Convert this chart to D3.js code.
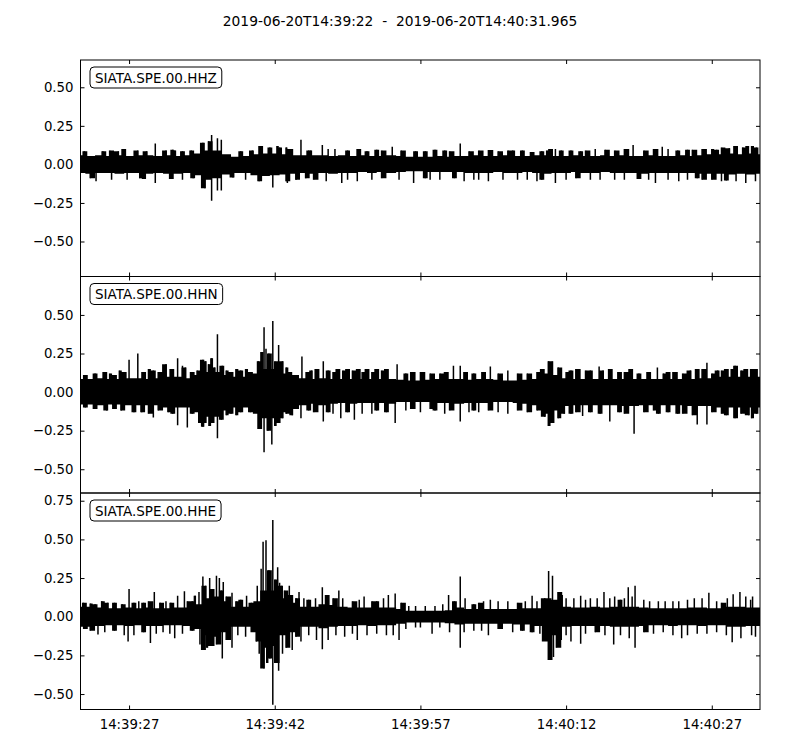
<!DOCTYPE html>
<html><head><meta charset="utf-8">
<script src="https://cdn.jsdelivr.net/npm/d3@7"></script>
<style>body{margin:0;background:#fff}svg{display:block}text{font-family:"DejaVu Sans",sans-serif}</style>
</head><body><svg id="c" width="800" height="750"></svg>
<script>
const titleText = "2019-06-20T14:39:22  -  2019-06-20T14:40:31.965";
const startTime = "2019-06-20T14:39:22.000Z";
const endTime = "2019-06-20T14:40:31.965Z";
const channels = ["SIATA.SPE.00.HHZ", "SIATA.SPE.00.HHN", "SIATA.SPE.00.HHE"];
const xTickLabels = ["14:39:27", "14:39:42", "14:39:57", "14:40:12", "14:40:27"];
const yTicks = [[-0.5,-0.25,0,0.25,0.5],[-0.5,-0.25,0,0.25,0.5],[-0.5,-0.25,0,0.25,0.5,0.75]];
const yLimits = [[-0.727,0.677],[-0.654,0.749],[-0.60,0.80]];
// dense core of each trace, sampled each second from start (t = 0..70 s)
const hhzUpper = [0.06,0.055,0.06,0.055,0.06,0.055,0.06,0.06,0.055,0.06,0.055,0.06,0.07,0.09,0.09,0.065,0.05,0.055,0.065,0.07,0.07,0.065,0.06,0.06,0.06,0.06,0.055,0.06,0.055,0.06,0.055,0.055,0.06,0.055,0.05,0.05,0.05,0.055,0.05,0.055,0.055,0.06,0.055,0.055,0.06,0.055,0.055,0.06,0.06,0.055,0.055,0.06,0.055,0.055,0.06,0.055,0.06,0.055,0.055,0.06,0.055,0.055,0.06,0.055,0.06,0.065,0.065,0.07,0.065,0.07,0.065];
const hhzLower = [-0.055,-0.06,-0.055,-0.055,-0.06,-0.055,-0.055,-0.06,-0.055,-0.06,-0.06,-0.055,-0.07,-0.1,-0.09,-0.065,-0.055,-0.055,-0.07,-0.075,-0.07,-0.065,-0.06,-0.055,-0.06,-0.055,-0.06,-0.055,-0.055,-0.05,-0.055,-0.05,-0.055,-0.05,-0.045,-0.045,-0.05,-0.05,-0.05,-0.05,-0.055,-0.055,-0.055,-0.05,-0.055,-0.055,-0.05,-0.055,-0.06,-0.055,-0.055,-0.05,-0.055,-0.055,-0.05,-0.055,-0.055,-0.055,-0.06,-0.055,-0.055,-0.055,-0.055,-0.055,-0.06,-0.06,-0.06,-0.065,-0.06,-0.065,-0.06];
const hhnUpper = [0.085,0.085,0.09,0.085,0.085,0.09,0.09,0.085,0.09,0.1,0.1,0.09,0.11,0.13,0.13,0.11,0.1,0.1,0.12,0.15,0.15,0.12,0.11,0.09,0.085,0.09,0.085,0.085,0.085,0.085,0.085,0.085,0.085,0.08,0.075,0.075,0.08,0.085,0.085,0.085,0.08,0.085,0.085,0.08,0.075,0.075,0.08,0.085,0.12,0.11,0.09,0.085,0.085,0.085,0.085,0.085,0.085,0.085,0.085,0.085,0.085,0.085,0.085,0.085,0.09,0.09,0.1,0.1,0.1,0.1,0.1];
const hhnLower = [-0.08,-0.08,-0.085,-0.08,-0.08,-0.085,-0.085,-0.085,-0.085,-0.1,-0.1,-0.1,-0.13,-0.16,-0.16,-0.12,-0.1,-0.1,-0.14,-0.17,-0.17,-0.13,-0.11,-0.085,-0.075,-0.085,-0.075,-0.07,-0.075,-0.07,-0.07,-0.07,-0.075,-0.065,-0.065,-0.065,-0.065,-0.07,-0.07,-0.075,-0.07,-0.07,-0.07,-0.065,-0.065,-0.07,-0.075,-0.085,-0.14,-0.12,-0.09,-0.085,-0.085,-0.085,-0.085,-0.085,-0.09,-0.09,-0.085,-0.085,-0.085,-0.085,-0.085,-0.09,-0.09,-0.09,-0.1,-0.1,-0.1,-0.1,-0.1];
const hheUpper = [0.065,0.065,0.06,0.055,0.055,0.06,0.055,0.06,0.055,0.055,0.06,0.06,0.08,0.12,0.13,0.1,0.065,0.065,0.1,0.17,0.17,0.12,0.09,0.065,0.065,0.08,0.075,0.065,0.06,0.06,0.06,0.06,0.06,0.05,0.038,0.038,0.038,0.038,0.042,0.06,0.05,0.05,0.05,0.05,0.05,0.05,0.055,0.055,0.12,0.11,0.065,0.06,0.06,0.065,0.06,0.065,0.065,0.065,0.06,0.055,0.055,0.055,0.055,0.06,0.06,0.055,0.055,0.065,0.065,0.06,0.06];
const hheLower = [-0.065,-0.065,-0.06,-0.055,-0.055,-0.06,-0.055,-0.06,-0.06,-0.055,-0.055,-0.06,-0.08,-0.12,-0.13,-0.1,-0.065,-0.065,-0.1,-0.2,-0.19,-0.12,-0.1,-0.065,-0.065,-0.075,-0.065,-0.06,-0.06,-0.055,-0.06,-0.055,-0.055,-0.045,-0.038,-0.038,-0.038,-0.038,-0.042,-0.05,-0.045,-0.045,-0.045,-0.045,-0.045,-0.05,-0.05,-0.06,-0.16,-0.12,-0.065,-0.06,-0.06,-0.06,-0.06,-0.065,-0.065,-0.065,-0.06,-0.055,-0.055,-0.06,-0.055,-0.055,-0.06,-0.055,-0.055,-0.065,-0.065,-0.06,-0.06];
// individual spikes [seconds from start, amplitude]
const hhzSpikes = [[0.4,0.085],[2.3,0.085],[3,0.09],[3.9,0.085],[4.4,0.1],[5.9,0.09],[6.8,0.085],[7.7,0.135],[8.8,0.09],[9.5,0.095],[9.7,0.09],[10.5,0.085],[11.4,0.09],[12.6,0.14],[13.2,0.15],[13.5,0.19],[14.1,0.17],[14.5,0.16],[16.5,0.085],[17.7,0.09],[18.6,0.12],[19.5,0.11],[20.3,0.12],[20.5,0.11],[21.2,0.11],[21.4,0.1],[21.8,0.1],[22.7,0.16],[23.5,0.09],[23.7,0.09],[24.9,0.125],[25.5,0.1],[26.2,0.1],[27.5,0.09],[28.8,0.1],[29.5,0.085],[30.5,0.095],[31,0.09],[32.1,0.115],[33,0.09],[34.5,0.085],[35.5,0.085],[36.5,0.095],[37.5,0.09],[38,0.085],[39.1,0.136],[40,0.085],[41,0.09],[42,0.093],[43,0.085],[44,0.09],[44.5,0.09],[45.5,0.09],[46.5,0.08],[47.5,0.085],[48,0.09],[48.3,0.1],[48.9,0.1],[49.5,0.09],[50.5,0.09],[51.5,0.085],[52,0.09],[53,0.1],[54,0.095],[55,0.09],[56,0.1],[56.9,0.125],[58,0.09],[59,0.1],[59.9,0.115],[60.5,0.1],[61.5,0.09],[62.5,0.095],[63,0.095],[64,0.1],[65,0.1],[65.5,0.095],[66,0.11],[66.8,0.105],[67.4,0.12],[68.2,0.11],[68.7,0.12],[69.1,0.12],[69.6,0.11],
  [1,-0.09],[1.6,-0.11],[3.2,-0.1],[4.8,-0.1],[6.1,-0.09],[6.5,-0.095],[7.7,-0.12],[9.2,-0.095],[10.5,-0.1],[11.6,-0.09],[12.8,-0.155],[13.5,-0.235],[14.1,-0.17],[14.5,-0.17],[15.7,-0.085],[17,-0.1],[18.4,-0.11],[19.8,-0.15],[21.2,-0.11],[21.3,-0.12],[22.2,-0.1],[23.2,-0.09],[24,-0.1],[25.3,-0.11],[26.9,-0.12],[27.5,-0.1],[28.5,-0.11],[30,-0.1],[31,-0.09],[32.8,-0.1],[34.3,-0.12],[35.5,-0.09],[36,-0.1],[37,-0.1],[38.5,-0.09],[39.5,-0.11],[40.5,-0.1],[41,-0.1],[42,-0.11],[43.5,-0.1],[45,-0.1],[46,-0.1],[47,-0.11],[47.5,-0.1],[48.9,-0.12],[50,-0.1],[51,-0.09],[52.5,-0.1],[53.5,-0.1],[55,-0.1],[56,-0.1],[57.5,-0.095],[58.5,-0.1],[59.2,-0.12],[60.5,-0.1],[61.6,-0.11],[62.5,-0.1],[63.5,-0.09],[64,-0.1],[65,-0.1],[66,-0.11],[66.5,-0.105],[67.5,-0.11],[68.5,-0.12],[69.5,-0.11]];
const hhnSpikes = [[0.5,0.11],[1.5,0.12],[2.5,0.13],[3,0.12],[3.5,0.11],[4,0.14],[4.5,0.13],[5,0.21],[5.9,0.25],[6.5,0.13],[7,0.15],[7.5,0.14],[8,0.13],[8.8,0.18],[9.3,0.15],[10,0.22],[10.5,0.17],[10.8,0.16],[11.5,0.13],[12,0.14],[12.6,0.21],[12.9,0.2],[13.2,0.18],[13.5,0.22],[13.8,0.16],[14.1,0.375],[14.6,0.17],[15,0.14],[15.5,0.13],[16,0.15],[16.5,0.14],[17,0.15],[17.5,0.13],[18.3,0.2],[18.7,0.26],[18.9,0.42],[19.1,0.28],[19.4,0.25],[19.8,0.46],[20,0.2],[20.4,0.305],[20.8,0.2],[21.2,0.16],[21.6,0.13],[22.8,0.23],[23.3,0.13],[23.8,0.14],[24.2,0.15],[25,0.2],[25.5,0.14],[26,0.13],[26.5,0.15],[27,0.14],[27.5,0.15],[28,0.14],[28.7,0.15],[29,0.13],[29.5,0.15],[30,0.13],[30.5,0.15],[31,0.14],[31.5,0.15],[32.6,0.18],[33.5,0.12],[34,0.13],[35,0.13],[36,0.12],[37,0.12],[37.8,0.13],[38.4,0.17],[39.1,0.17],[39.8,0.13],[40.5,0.12],[41.5,0.13],[42.2,0.165],[43,0.12],[44,0.14],[45,0.12],[46,0.12],[47,0.13],[47.6,0.15],[48.2,0.2],[48.6,0.2],[49.2,0.16],[50,0.13],[50.5,0.14],[51,0.15],[52,0.14],[52.5,0.14],[53.4,0.165],[53.8,0.14],[54.6,0.15],[55.5,0.13],[56,0.13],[56.8,0.15],[57.5,0.12],[58.5,0.13],[59.4,0.16],[60,0.12],[60.5,0.13],[61,0.13],[62,0.12],[62.8,0.14],[63.5,0.15],[64,0.15],[64.5,0.19],[65,0.12],[65.6,0.14],[66,0.14],[66.5,0.15],[67,0.15],[67.4,0.17],[68,0.14],[68.5,0.15],[69,0.15],[69.5,0.15],
  [0.5,-0.1],[1.5,-0.11],[2.7,-0.12],[3.5,-0.11],[4.2,-0.12],[5.5,-0.13],[6.3,-0.13],[7,-0.14],[7.5,-0.165],[8,-0.12],[9,-0.13],[9.5,-0.14],[10,-0.215],[11,-0.23],[11.5,-0.14],[12.2,-0.2],[12.6,-0.225],[12.9,-0.2],[13.3,-0.22],[13.6,-0.2],[14.1,-0.3],[14.5,-0.18],[15,-0.15],[15.5,-0.14],[16,-0.15],[16.5,-0.13],[17.5,-0.13],[18.4,-0.24],[18.9,-0.39],[19.3,-0.25],[19.7,-0.34],[20,-0.22],[20.4,-0.2],[20.8,-0.17],[21.2,-0.14],[21.8,-0.15],[22.7,-0.17],[23.5,-0.12],[24,-0.13],[25,-0.19],[25.5,-0.13],[26,-0.14],[26.8,-0.17],[27.5,-0.13],[28.2,-0.18],[29,-0.14],[30,-0.14],[30.5,-0.12],[31.5,-0.13],[32.4,-0.2],[33.5,-0.12],[34,-0.11],[35,-0.13],[36,-0.11],[36.5,-0.12],[37.5,-0.14],[38,-0.12],[39.1,-0.19],[40,-0.13],[40.5,-0.12],[41,-0.13],[42,-0.12],[43,-0.13],[44,-0.14],[45,-0.12],[46,-0.13],[47,-0.12],[47.8,-0.16],[48.2,-0.22],[48.6,-0.2],[49.2,-0.17],[49.8,-0.14],[50.5,-0.14],[51,-0.13],[51.7,-0.155],[52.5,-0.13],[53.5,-0.14],[54.5,-0.19],[55.5,-0.13],[56,-0.14],[57,-0.27],[58,-0.13],[59,-0.12],[59.5,-0.14],[60.5,-0.13],[61.5,-0.14],[62,-0.14],[63,-0.15],[63.5,-0.21],[64.5,-0.21],[65,-0.13],[66,-0.14],[66.5,-0.15],[67.4,-0.17],[68,-0.14],[68.8,-0.15],[69.1,-0.17],[69.6,-0.14]];
const hheSpikes = [[0.3,0.09],[1,0.085],[1.5,0.08],[2.2,0.1],[2.8,0.09],[3.5,0.09],[4.3,0.08],[5,0.18],[5.5,0.09],[6,0.1],[6.5,0.09],[7,0.1],[7.6,0.16],[8.2,0.09],[8.8,0.1],[9.3,0.09],[10,0.135],[10.7,0.165],[11,0.1],[11.5,0.1],[11.8,0.135],[12.2,0.16],[12.6,0.26],[12.9,0.2],[13.3,0.25],[13.6,0.18],[14,0.265],[14.3,0.25],[14.5,0.17],[14.7,0.225],[15,0.13],[15.6,0.155],[16,0.1],[16.5,0.11],[17.1,0.135],[17.6,0.09],[18.2,0.2],[18.6,0.31],[18.8,0.485],[19.1,0.495],[19.4,0.3],[19.8,0.625],[20,0.24],[20.3,0.32],[20.5,0.22],[20.7,0.2],[21,0.17],[21.5,0.2],[21.8,0.14],[22.2,0.12],[22.5,0.16],[23,0.12],[23.5,0.11],[24.2,0.12],[24.9,0.19],[25.3,0.14],[26,0.12],[26.6,0.17],[27,0.12],[28,0.1],[28.7,0.11],[29.2,0.13],[30,0.1],[30.5,0.1],[31.2,0.12],[31.7,0.14],[32.4,0.15],[33,0.09],[33.8,0.07],[34.5,0.07],[35.5,0.07],[36.5,0.07],[37.3,0.08],[37.9,0.14],[38.5,0.1],[39.1,0.26],[39.6,0.12],[40.5,0.08],[41,0.09],[41.5,0.1],[42.2,0.11],[43,0.1],[44,0.1],[45,0.09],[45.8,0.1],[46.5,0.135],[47,0.1],[47.8,0.12],[48.2,0.295],[48.6,0.265],[49.2,0.16],[49.6,0.14],[50,0.12],[50.8,0.12],[51.5,0.135],[52,0.11],[52.5,0.12],[53.2,0.12],[53.9,0.16],[54.5,0.12],[55,0.13],[55.6,0.11],[56,0.12],[56.4,0.19],[56.8,0.13],[57.1,0.2],[58,0.11],[58.6,0.1],[59.5,0.1],[60.2,0.1],[61,0.1],[61.6,0.1],[62.5,0.11],[63.2,0.12],[64,0.12],[64.7,0.155],[65.5,0.1],[66,0.09],[66.6,0.12],[67.2,0.145],[67.9,0.16],[68.5,0.13],[69,0.11],[69.2,0.13],
  [0.5,-0.08],[1,-0.09],[1.8,-0.115],[2.5,-0.1],[3.5,-0.09],[4.5,-0.12],[4.9,-0.16],[5.5,-0.12],[6.5,-0.1],[7.2,-0.17],[7.8,-0.11],[8.5,-0.1],[9.2,-0.11],[9.7,-0.14],[10.5,-0.11],[11.5,-0.09],[12.3,-0.18],[12.8,-0.215],[13,-0.2],[13.3,-0.19],[13.6,-0.19],[14,-0.18],[14.6,-0.27],[15,-0.15],[15.6,-0.2],[16.2,-0.12],[17,-0.13],[18.1,-0.16],[18.4,-0.24],[18.9,-0.335],[19.2,-0.3],[19.5,-0.27],[19.8,-0.57],[20,-0.3],[20.4,-0.35],[20.8,-0.24],[21.2,-0.2],[21.8,-0.215],[22.2,-0.13],[22.7,-0.16],[23.5,-0.12],[24.3,-0.15],[24.9,-0.21],[25.5,-0.15],[26.3,-0.12],[27.2,-0.13],[28,-0.11],[28.5,-0.15],[29.5,-0.12],[30.5,-0.11],[31.5,-0.12],[32.2,-0.12],[32.8,-0.15],[33.5,-0.08],[34.5,-0.07],[35,-0.07],[36.2,-0.11],[37,-0.07],[38,-0.1],[39.1,-0.2],[39.5,-0.1],[40.5,-0.09],[41.3,-0.09],[42,-0.12],[43,-0.08],[44.5,-0.1],[45.5,-0.09],[46.5,-0.1],[47.3,-0.11],[48.2,-0.28],[48.7,-0.26],[49,-0.2],[49.5,-0.15],[50,-0.12],[50.5,-0.16],[51.5,-0.175],[52,-0.11],[53,-0.1],[54,-0.12],[54.9,-0.18],[55.6,-0.12],[56.5,-0.14],[57.1,-0.2],[58,-0.1],[59,-0.11],[60,-0.1],[61,-0.12],[61.9,-0.14],[62.5,-0.12],[63.5,-0.11],[64.5,-0.11],[65.5,-0.1],[66.5,-0.12],[67.1,-0.165],[68,-0.14],[69.1,-0.12],[69.5,-0.13]];

const uppers = [hhzUpper, hhnUpper, hheUpper];
const lowers = [hhzLower, hhnLower, hheLower];
const spikes = [hhzSpikes, hhnSpikes, hheSpikes];

const svg = d3.select("#c");
const L = 80.5, R = 760;
const panelTops = [60, 276.5, 493];
const panelH = 216.5;
const t0 = new Date(startTime), t1 = new Date(endTime);
const x = d3.scaleUtc().domain([t0, t1]).range([L, R]);
const tAt = s => new Date(t0.getTime() + s * 1000);
const tickDates = xTickLabels.map(s => new Date("2019-06-20T" + s + "Z"));

svg.append("text").attr("x", 400).attr("y", 26).attr("text-anchor", "middle")
  .attr("font-size", 13.8).style("white-space", "pre").text(titleText);

const defs = svg.append("defs");
channels.forEach((ch, i) => {
  const top = panelTops[i], bot = top + panelH;
  const y = d3.scaleLinear().domain(yLimits[i]).range([bot, top]);
  defs.append("clipPath").attr("id", "clip" + i).append("rect")
    .attr("x", L).attr("y", top).attr("width", R - L).attr("height", panelH);
  const g = svg.append("g").attr("clip-path", `url(#clip${i})`);
  const core = uppers[i].map((u, k) => ({t: k, u, l: lowers[i][k]}));
  const coreAt = (t, key) => core[Math.min(core.length - 1, Math.round(t))][key];
  // small spikes (close to the core) shape the band edge as steps; all spikes also drawn as lines
  const upEdge = core.map(d => [d.t, d.u])
    .concat(spikes[i].filter(s => s[1] > 0 && s[1] < 1.8 * coreAt(s[0], "u")))
    .sort((a, b) => a[0] - b[0]);
  const loEdge = core.map(d => [d.t, d.l])
    .concat(spikes[i].filter(s => s[1] < 0 && s[1] > 1.8 * coreAt(s[0], "l")))
    .sort((a, b) => a[0] - b[0]);
  g.append("path").datum(upEdge)
    .attr("d", d3.area().curve(d3.curveStep).x(d => x(tAt(d[0]))).y0(y(0) + 1).y1(d => y(d[1])))
    .attr("fill", "#000");
  g.append("path").datum(loEdge)
    .attr("d", d3.area().curve(d3.curveStep).x(d => x(tAt(d[0]))).y0(y(0) - 1).y1(d => y(d[1])))
    .attr("fill", "#000");
  g.selectAll("line.sp").data(spikes[i]).join("line")
    .attr("x1", d => x(tAt(d[0]))).attr("x2", d => x(tAt(d[0])))
    .attr("y1", y(0)).attr("y2", d => y(d[1]))
    .attr("stroke", "#000").attr("stroke-width", 1.5);

  const ay = svg.append("g").attr("transform", `translate(${L},0)`)
    .call(d3.axisLeft(y).tickValues(yTicks[i]).tickSizeInner(-4).tickSizeOuter(0).tickPadding(7)
      .tickFormat(v => d3.format(".2f")(v).replace("-", "\u2212")));
  const ayr = svg.append("g").attr("transform", `translate(${R},0)`)
    .call(d3.axisRight(y).tickValues(yTicks[i]).tickSizeInner(-4).tickSizeOuter(0).tickFormat(""));
  const axt = svg.append("g").attr("transform", `translate(0,${top})`)
    .call(d3.axisTop(x).tickValues(tickDates).tickSizeInner(-4).tickSizeOuter(0).tickFormat(""));
  const axb = svg.append("g").attr("transform", `translate(0,${bot})`)
    .call(d3.axisBottom(x).tickValues(tickDates).tickSizeInner(-4).tickSizeOuter(0).tickPadding(8)
      .tickFormat(i === 2 ? ((d, k) => xTickLabels[k]) : ""));
  [ay, ayr, axt, axb].forEach(a => {
    a.select(".domain").remove();
    a.selectAll("text").attr("font-size", 13.3).attr("fill", "#000").attr("font-family", "DejaVu Sans, sans-serif");
    a.selectAll("line").attr("stroke", "#000");
  });
  axb.selectAll("text").attr("dy", "0.85em");
  svg.append("rect").attr("x", L).attr("y", top).attr("width", R - L).attr("height", panelH)
    .attr("fill", "none").attr("stroke", "#000").attr("stroke-width", 1);

  const lg = svg.append("g");
  const txt = lg.append("text").attr("x", 95).attr("y", top + 22.5).attr("font-size", 13.5).text(ch);
  const bb = txt.node().getBBox();
  lg.insert("rect", "text").attr("x", bb.x - 5).attr("y", bb.y - 2.5).attr("width", bb.width + 10).attr("height", bb.height + 5)
    .attr("rx", 4).attr("fill", "#fff").attr("stroke", "#000").attr("stroke-width", 1);
});
</script></body></html>
